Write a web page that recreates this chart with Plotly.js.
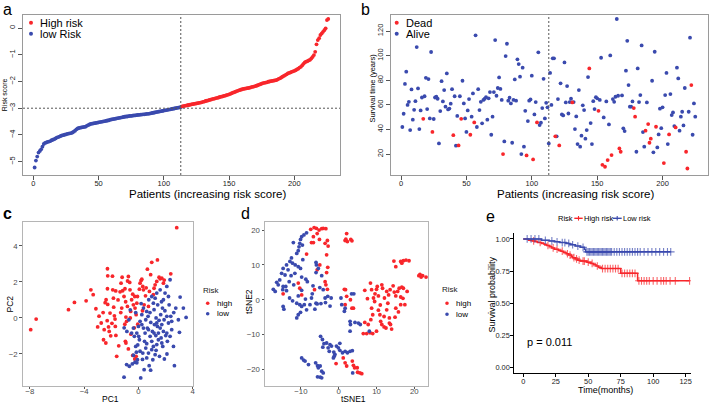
<!DOCTYPE html>
<html><head><meta charset="utf-8">
<script src="https://cdn.plot.ly/plotly-3.0.1.min.js"></script>
<style>html,body{margin:0;padding:0;background:#fff}#chart{width:709px;height:404px}</style>
</head><body><div id="chart"></div>
<script>
// ---------- panel a: risk score curve ----------
const riskScore = [
-5.22,-4.96,-4.81,-4.66,-4.60,-4.54,-4.44,-4.34,-4.30,-4.28,
-4.26,-4.25,-4.23,-4.20,-4.18,-4.16,-4.13,-4.10,-4.08,-4.06,
-4.04,-4.02,-4.01,-3.99,-3.98,-3.96,-3.95,-3.94,-3.93,-3.91,
-3.88,-3.84,-3.79,-3.76,-3.74,-3.73,-3.72,-3.71,-3.70,-3.69,
-3.66,-3.63,-3.61,-3.59,-3.58,-3.57,-3.56,-3.55,-3.54,-3.53,
-3.52,-3.51,-3.50,-3.49,-3.48,-3.47,-3.46,-3.45,-3.43,-3.42,
-3.41,-3.40,-3.39,-3.38,-3.37,-3.36,-3.35,-3.34,-3.33,-3.32,
-3.31,-3.31,-3.30,-3.29,-3.29,-3.28,-3.27,-3.27,-3.26,-3.25,
-3.25,-3.24,-3.24,-3.23,-3.23,-3.22,-3.21,-3.21,-3.20,-3.19,
-3.18,-3.17,-3.16,-3.15,-3.14,-3.13,-3.12,-3.11,-3.10,-3.09,
-3.08,-3.07,-3.06,-3.05,-3.04,-3.03,-3.02,-3.01,-3.00,-2.99,-2.98,-2.97,-2.96,
-2.93,-2.92,-2.91,-2.90,-2.89,-2.88,-2.87,
-2.86,-2.85,-2.84,-2.83,-2.82,-2.81,-2.80,-2.79,-2.78,-2.76,
-2.75,-2.73,-2.72,-2.71,-2.69,-2.68,-2.66,-2.65,-2.64,-2.62,
-2.61,-2.60,-2.58,-2.57,-2.56,-2.54,-2.53,-2.51,-2.50,-2.48,
-2.46,-2.44,-2.42,-2.40,-2.38,-2.36,-2.34,-2.32,-2.31,-2.29,
-2.28,-2.27,-2.26,-2.25,-2.24,-2.23,-2.21,-2.20,-2.19,-2.17,
-2.16,-2.14,-2.12,-2.10,-2.08,-2.06,-2.05,-2.04,-2.03,-2.01,
-2.00,-1.99,-1.98,-1.97,-1.96,-1.95,-1.93,-1.90,-1.88,-1.85,
-1.82,-1.79,-1.76,-1.73,-1.70,-1.68,-1.66,-1.64,-1.62,-1.60,
-1.58,-1.55,-1.52,-1.48,-1.45,-1.40,-1.34,-1.29,-1.26,-1.24,
-1.21,-1.19,-1.14,-1.08,-1.01,-0.89,-0.61,-0.45,-0.38,-0.26,
-0.20,-0.14,-0.08,-0.01,0.30,0.34];
const nLowRisk = 113;
const riskCutoff = -3;
const riskXTicks = [0,50,100,150,200];
const riskYTicks = [-5,-4,-3,-2,-1,0];

// ---------- panel b: survival time / status ----------
const survTime = [
42,52.8,77,87,60,62.5,39.5,72.6,48,56,
63,107,73.4,40.3,55.5,66,48.7,67,82,56.6,
81,49,103,38,48.5,66,66.6,65,28.7,55,
79.3,62.8,72,58.5,85.6,56.3,57,61,72.8,35.4,
67,26.8,51,27,67,48.7,79.6,61.2,49,38,
55.5,64.7,35.7,50.4,69.3,45.7,116.5,42,72.8,55.8,
62.5,45,64,65,66.3,48,65.3,70.4,35.7,50.4,
70.4,112.7,67.4,73.7,82.3,73,64,20,30.3,99.7,
109.7,63.4,65.8,61.2,29.2,64,80.7,63.4,97,93.2,
82.9,20,90.2,26,55.2,18.9,46.8,63.4,64.4,83.7,
15.7,52.2,62.3,45.7,102.7,43.6,45.5,57.4,81.2,49,
61.7,58,28.7,86,60,97.8,97.8,34.4,34.4,64.7,
27,77.5,52.2,51.4,94.5,62,75.3,53,62.3,65,
62,62.3,40.3,50.6,28.1,72,26,35,59.6,55.8,
32.5,39.5,82.6,89.6,45.2,28.1,63,56.6,66.3,65.3,
55.2,64,98.3,11.3,49.8,9.7,62.8,15.1,44.1,100.2,
19.2,64.7,62.5,66.6,129.8,67.4,24.6,21.9,67.7,40.9,
38.7,87.8,112.1,76.1,58.5,58.5,62.8,57.4,50.4,21.9,
89.6,62.3,68,108.3,37.9,26,39,62,44.4,29.2,
32.5,79.6,21.4,103.2,42.2,25.4,36,56.9,41.1,58,
12.7,68,86,28.1,36,68.8,51.7,53.9,42.8,41.7,
90.2,81.5,39,50.4,54.4,43.3,73.7,21.9,8.3,54.4,
114.6,76.1,35.7,61.2,50.4];
const survDead = [
0,0,0,0,0,0,0,0,0,0, 0,0,0,0,0,0,1,0,0,0, 0,0,0,1,0,0,0,0,0,0,
0,0,0,0,0,0,0,0,0,1, 0,0,0,1,0,1,0,0,0,0, 0,0,1,0,0,1,0,0,0,0,
0,0,0,0,0,0,0,0,0,0, 0,0,0,0,0,0,0,1,0,0, 0,0,0,0,0,0,0,0,0,0,
0,0,0,0,0,1,0,0,0,0, 1,0,0,1,0,0,0,0,0,0, 0,0,0,0,0,0,0,1,0,0,
1,0,0,0,0,0,0,0,0,0, 1,0,0,0,0,0,0,0,0,0, 0,0,0,1,0,0,0,0,0,0,
1,0,0,1,0,1,0,1,0,0, 1,0,0,0,0,0,1,1,0,0, 0,0,0,0,0,0,0,1,1,0,
0,0,0,0,0,0,1,0,1,1, 1,0,0,0,1,0,0,0,0,0, 1,0,0,0,1,0,0,0,0,1,
0,0,0,0,0,0,0,1,1,0, 0,1,0,0,0];
const survYTicks = [20,40,60,80,100,120];

// ---------- panel c: PCA ----------
const pcaHigh = [[2.82,5.01],[-7.93,-0.65],[-7.53,-0.06],[-5.15,0.46],[-4.71,0.86],[-3.85,0.95],[-3.5,1.56],[-3.33,1.29],[-3.13,0.51],[-2.74,-0.28],
[-2.57,-1.21],[-2.4,-1.39],[-2.38,1.01],[-2.28,2.73],[-2.26,2.34],[-2.28,1.62],[-2.26,0.75],[-2.2,-0.5],[-2.09,0.27],[-2.04,-0.99],
[-1.91,2.32],[-1.89,1.56],[-1.84,1.1],[-1.82,0.6],[-1.77,0.12],[-1.72,-0.06],[-1.7,-0.47],[-1.66,-0.97],[-1.6,-2.13],[-1.67,1.5],
[-1.28,1.93],[-1.23,0.55],[-1.2,2.26],[-1.16,1.51],[-1.06,1.19],[-0.99,1.62],[-0.94,0.9],[-0.92,0.05],[-0.87,-0.19],[-0.81,0.64],
[-0.92,-1.39],[-0.96,-1.3],[-0.74,-1.72],[-0.74,2.3],[-0.64,1.97],[-0.62,1.56],[-0.57,0.36],[-0.5,1.01],[-0.42,1.32],[-0.37,0.73],
[-0.27,1.19],[-0.25,0.55],[-0.17,0.18],[-0.12,0.82],[-0.07,1.19],[0.07,1.6],[0.12,1.93],[0.2,2.08],[0.25,2.15],[0.32,1.75],
[0.37,1.56],[0.42,0.73],[0.52,1.23],[0.57,1.67],[0.66,2.71],[0.74,0.64],[0.81,1.47],[0.98,3.09],[1.15,1.65],[1.23,1.84],
[1.35,2.03],[1.4,3.22],[1.52,2.26],[1.6,2.17],[1.72,2.21],[1.84,1.93],[2.38,2.45],[-0.17,-2.13],[-0.42,-2.08],[-0.27,-2.28],
[-2.52,-0.65],[-2.45,0.85],[-2.6,0.3],[-2.3,-0.15],[-2.15,-0.75],[-1.45,-1.55],[-1.3,0.3],[-1.5,1.0],[-0.6,0.0],[-0.3,-0.55],
[-0.05,-0.35],[-0.55,-0.9],[-1.0,-0.35],[-3.0,-0.5],[-2.9,0.1],[-1.95,-0.3],[0.3,0.4],[0.9,2.4],[1.9,2.1],[1.1,1.3],[-1.35,1.45],[-0.8,2.05]];
const pcaLow = [[-1.06,-3.29],[-0.87,-2.59],[-0.67,-2.68],[-0.37,-2.07],[-0.25,-2.46],[-0.12,-2.49],[-0.07,-2.32],[-0.05,-1.5],[0.02,-1.02],[0.07,-1.21],
[0.12,-1.85],[0.17,-3.33],[0.25,-0.37],[0.32,-1.95],[0.42,-2.87],[0.49,-0.84],[0.54,-1.67],[0.61,-1.43],[0.66,-0.56],[0.71,0.09],
[0.74,-1.95],[0.79,-2.65],[0.86,-1.02],[0.91,-0.25],[0.98,-1.3],[1.03,-0.75],[1.06,-2.32],[1.1,-1.58],[1.15,0.46],[1.18,-0.37],
[1.23,1.1],[1.28,-0.98],[1.3,0],[1.35,-1.48],[1.4,-0.47],[1.42,0.73],[1.47,-0.84],[1.52,-0.13],[1.55,-2.13],[1.6,-0.56],
[1.64,0.18],[1.67,-1.11],[1.72,-0.37],[1.77,0.55],[1.79,-1.58],[1.84,-0.75],[1.89,-0.1],[1.91,-2.28],[1.96,1.38],[2.01,-0.98],
[2.09,0.09],[2.13,-1.3],[2.21,-0.28],[2.26,0.73],[2.33,2.12],[2.38,0.09],[2.45,-0.65],[2.58,-1.58],[2.65,-2.65],[3.07,1.16],
[3.31,0.55],[3.51,0.03],[3.02,-0.8],[2.94,-0.1],[-0.5,-0.84],[-0.37,-0.56],[-0.3,-1.02],[-0.2,-1.58],[-0.12,-0.84],[0,-0.47],
[0.12,-0.19],[0.25,0.18],[0.37,0.55],[0.54,-0.1],[0.61,0.36],[0.76,1.01],[0.98,1.19],[1.1,0.82],[1.35,1.38],[1.6,1.56],
[1.84,1.01],[2.09,1.75],[2.21,1.19],[0.37,-0.56],[0.74,-0.65],[1.15,-0.84],[1.47,-1.21],[1.72,-1.39],[0.98,-1.76],[1.23,-2.04],
[0.61,-2.22],[1.35,-0.28],[2.09,-0.84],[2.33,-1.02],[2.45,-0.19],[-0.7,-0.1],[-0.6,0.45],[-0.2,0.3],[0.2,0.8],[0.85,0.3],
[1.95,0.4],[2.6,0.3],[1.3,-1.8],[0.45,-1.3],[-0.45,-2.55],[0.9,-2.9],[-0.15,-1.9],[2.1,-2.0],[1.7,0.9],[-1.05,-0.55],
[-0.85,-0.75],[0.3,-2.3],[2.75,0.55]];
const pcaXTicks = [-8,-4,0,4];
const pcaYTicks = [-2,0,2,4];

// ---------- panel d: tSNE ----------
const tsneHigh = [[-7.4,20.2],[-6.5,20.7],[-5.9,20.5],[-5.2,20],[-4.5,20.4],[-4.1,20.5],[-3.4,20.4],[-5.7,19],[-6.7,18.1],[-7.2,16.4],
[-6.7,16.4],[-5.1,17.3],[-3.6,16.2],[-3,17],[-2.8,15.4],[-3.2,12.9],[-8.5,13.1],[-5,10],[-5.7,8.6],[-3.2,7.8],
[-2.9,9.3],[-3.6,5.2],[-3.4,4.3],[-6.4,2.9],[-10.7,4.8],[-10.3,3.3],[-9.8,1.4],[-14.7,1.7],[-3,3.0],
[2.1,19],[1.9,17.4],[1.7,17],[2.3,16.7],[3.2,17.3],[3.5,16.9],
[14.6,11.1],[15.1,9.5],[16.4,11],[16.7,10.5],[17.1,11.2],[17.8,11.4],[18.6,11.2],[21.5,7.3],[21.8,6.5],[22.2,6.9],[23.1,6.5],[21.2,6.9],
[6.9,2.7],[7.6,0.3],[8.4,4.8],[8.7,2.9],[9.2,0.5],[9.6,1.7],[10,3],[10.2,3.8],[10.5,1.1],[11.4,4.3],[11.6,3.3],[12.1,0.5],[12.7,2.4],
[13.2,1.4],[13.6,2.9],[14.4,4],[14.7,2.2],[15.1,1.1],[15.6,2.4],[16,3.3],[16.4,0.8],[16.7,3.6],[17.1,3.3],[17.5,-1.4],[18.1,2.4],
[16.4,-1.4],[15.1,-2.4],[14.9,-5],[13.4,-5.2],[8.7,-2.4],[9,-4.3],[8.5,-5.7],[6.9,-6.5],[7.8,-7.1],[8.3,-9.5],[9,-9.7],[10,-9],
[10.9,-4.3],[11.1,-6.2],[11.4,-7.1],[12,-7.8],[12.5,-8.1],[13.4,-6.7],[13.7,-7.1],[14,-8.4],[12,-4.8],[12.7,-2.9],[10.5,-3],
[6.5,-9.7],[7.4,-9.7],[9.5,-0.5],[11,-1.5],[13,-1.0],[15.8,-3.5],[17,0.4],
[-0.7,-18.3],[1.7,-18.1],[2.1,-19],[3.6,-17.6],[3.9,-18.8],[4.2,-19.5],[4.9,-19.5],[5,-20.8],[5.6,-21],[6.1,-21.2],[1.2,-16.7],
[1.5,3],[1.8,2.9],[3.1,0],[3.5,-2.4],[3.9,-2.4],[2.1,1],[1.7,-1.4]];
const tsneLow = [[-8.5,19.2],[-9.2,18.6],[-9.8,18.1],[-10.1,17.3],[-12,16.4],[-10.3,16.2],[-10.5,15.2],[-10.7,14.1],[-11.1,13.3],[-9.6,15.7],
[-12.9,11],[-12.2,10.5],[-11.5,10],[-10.7,9.5],[-10.1,9],[-13.8,10],[-14.7,9],[-13.4,8.6],[-15.1,7.6],[-14.2,7.1],
[-12.6,6.9],[-11.6,7.6],[-9.8,6.5],[-8.7,5.9],[-8.3,5.2],[-15.6,5.7],[-16.4,5],[-16,4.3],[-14.7,3.8],[-14,3.8],
[-13.1,5.2],[-11.9,4.3],[-17.3,3],[-16.8,2.4],[-14.8,2.9],[-13.8,2.6],[-10.7,1.1],[-9.8,2.7],[-11.1,-1],[-10.3,-1.4],
[-9.8,-1.9],[-9.1,-1.4],[-8.5,-2.9],[-10.1,-3.6],[-10.7,-4.3],[-11.1,-5.2],[-14.7,-1.9],[-14.5,-2.7],[-7,1.7],[-7.2,0.5],
[-6,-1],[-5.7,-1.2],[-4.7,-1.1],[-3.6,0.5],[-2.9,1],[-2,0.5],[-6.3,-2.7],[-7.6,-1.4],[-6,10.7],[-5.9,10],
[-5.4,9],[-6,7.8],[-4.5,6.9],[-4.1,2.9],[0.6,0.5],[0.8,-1.4],[1.7,-2.4],[1.5,-3.3],[4,1.7],[3.4,1.7],
[3,-6.2],[3.1,-7.1],[3,-9],[4.3,-6.5],[5.2,-6.7],[5.7,-7.1],[8.1,-9],
[-4.8,-10.5],[-4.3,-11.4],[-3.9,-12.6],[-3.2,-12.4],[-2.3,-12.9],[-1.9,-13.3],[-2.5,-14.8],[-1.3,-15],[-1,-15.7],[-0.6,-13.3],
[-0.1,-13.8],[0.3,-14.5],[1,-15.2],[1.7,-14.8],[2.3,-15.2],[3,-14.8],[3.6,-14.6],[-1.2,-16.2],[-1.4,-16.7],
[-9.8,-16.7],[-9.3,-17.3],[-8.9,-17.6],[-8,-18.6],[-6.1,-18.1],[-5.6,-18.9],[-5.4,-19.5],[-4.9,-19],[-4.5,-20.5],[-4.1,-21],
[-5.6,-22.1],[-4.9,-22.2],[-4.5,-22.4],[3.7,-21],[-12.5,12],[-9.5,11.5],[-13,0.5],[-12.2,-0.3],[-8.8,0.2],[-6.8,4.0],
[-5,3.5],[-2.3,-1.8],[-3.5,-0.8],[0.3,-12.5],[-4.2,-13.6],[-2.8,-13.8]];
const tsneXTicks = [-10,0,10,20];
const tsneYTicks = [-20,-10,0,10,20];

// ---------- panel e: Kaplan-Meier ----------
const kmHighTime = [0,4,7,9,11,14,16,18,20,22,24,27,29,31,33,35,37,38,40,42,44,49,52,54,56,58,60,75,88];
const kmHighSurv = [1,0.99,0.985,0.98,0.973,0.965,0.958,0.95,0.94,0.93,0.92,0.912,0.905,0.895,0.885,0.875,0.865,0.855,0.845,0.835,0.828,0.82,0.81,0.80,0.79,0.78,0.77,0.733,0.675];
const kmHighCensor = [8,13,19,23,26,30,34,36,39,41,43,46,47,50,53,57,61,63,65,67,69,71,73,76,78,80,82,84,86,89,91,93,95,97,100,103,106,108,110,113,117,128];
const kmLowTime = [0,14,20,24,28,33,36,40,44,47,48];
const kmLowSurv = [1,0.99,0.985,0.978,0.972,0.965,0.955,0.945,0.935,0.92,0.90];
const kmLowCensor = [3,6,9,12,17,22,26,30,32,35,38,42,46,49,50,51,52,53,54,55,56,57,58,59,60,61,62,63,64,65,66,67,68,70,72,74,76,78,80,82,84,86,88,90,93,96,99,102,105,108,111,113.5];
const kmXTicks = [0,25,50,75,100,125];
const kmYTicks = [0,0.25,0.5,0.75,1];
const kmPValue = 'p = 0.011';

// ---------- styling ----------
const RED = '#f8262b', BLUE = '#3a4aae';
const FONT = 'Liberation Sans, Arial, Helvetica, sans-serif';
const W = 709, H = 404;
const px = v => v / W, py = v => 1 - v / H;

const traces = [];
const MS = 3.8;
// a
const idx = riskScore.map((_, i) => i + 1);
traces.push({x: idx.slice(0, nLowRisk), y: riskScore.slice(0, nLowRisk), type:'scatter', mode:'markers', name:'low Risk',
  marker:{color:BLUE, size:MS}, xaxis:'x', yaxis:'y'});
traces.push({x: idx.slice(nLowRisk), y: riskScore.slice(nLowRisk), type:'scatter', mode:'markers', name:'High risk',
  marker:{color:RED, size:MS}, xaxis:'x', yaxis:'y'});
// b
const bx = survTime.map((_, i) => i + 1);
const pick = (arr, flag) => arr.filter((_, i) => survDead[i] === flag);
traces.push({x: pick(bx, 0), y: pick(survTime, 0), type:'scatter', mode:'markers', name:'Alive',
  marker:{color:BLUE, size:MS}, xaxis:'x2', yaxis:'y2'});
traces.push({x: pick(bx, 1), y: pick(survTime, 1), type:'scatter', mode:'markers', name:'Dead',
  marker:{color:RED, size:MS}, xaxis:'x2', yaxis:'y2'});
// c
traces.push({x: pcaHigh.map(p=>p[0]), y: pcaHigh.map(p=>p[1]), type:'scatter', mode:'markers', name:'high',
  marker:{color:RED, size:MS}, xaxis:'x3', yaxis:'y3'});
traces.push({x: pcaLow.map(p=>p[0]), y: pcaLow.map(p=>p[1]), type:'scatter', mode:'markers', name:'low',
  marker:{color:BLUE, size:MS}, xaxis:'x3', yaxis:'y3'});
// d
traces.push({x: tsneHigh.map(p=>p[0]), y: tsneHigh.map(p=>p[1]), type:'scatter', mode:'markers', name:'high',
  marker:{color:RED, size:MS}, xaxis:'x4', yaxis:'y4'});
traces.push({x: tsneLow.map(p=>p[0]), y: tsneLow.map(p=>p[1]), type:'scatter', mode:'markers', name:'low',
  marker:{color:BLUE, size:MS}, xaxis:'x4', yaxis:'y4'});
// e : step curve with censor ticks merged in (censor points lie on the step)
function kmTrace(times, survs, censors, name, color) {
  const S = t => { let s = survs[0]; for (let k = 0; k < times.length; k++) if (times[k] <= t) s = survs[k]; return s; };
  const pts = times.map((t, k) => ({t, s: survs[k], c: 0})).concat(censors.map(t => ({t, s: S(t), c: 1})));
  pts.sort((a, b) => a.t - b.t || a.c - b.c);
  return {x: pts.map(p=>p.t), y: pts.map(p=>p.s), type:'scatter', mode:'lines+markers', name,
    line:{color, width:1.5, shape:'hv'},
    marker:{symbol:'cross-thin', size: pts.map(p=>p.c ? 5.5 : 0), line:{color, width:1.1}, color},
    xaxis:'x5', yaxis:'y5'};
}
traces.push(kmTrace(kmHighTime, kmHighSurv, kmHighCensor, 'High risk', RED));
traces.push(kmTrace(kmLowTime, kmLowSurv, kmLowCensor, 'Low risk', BLUE));

const rAxis = (extra) => Object.assign({showgrid:false, zeroline:false, showline:true, mirror:true, linecolor:'#9a9a9a', linewidth:1,
  ticks:'outside', ticklen:4, tickcolor:'#555', tickfont:{size:7.5, color:'#222', family:FONT}}, extra);
const gAxis = (extra) => Object.assign({showgrid:false, zeroline:false, showline:true, mirror:true, linecolor:'#b5b5b5', linewidth:1,
  ticks:'outside', ticklen:2.5, tickcolor:'#555', tickfont:{size:7.8, color:'#4d4d4d', family:FONT}}, extra);

// helpers for text, legend keys
const txt = (text, x, y, size, extra) => Object.assign({text, x:px(x), y:py(y), xref:'paper', yref:'paper', xanchor:'left', yanchor:'middle',
  showarrow:false, borderpad:0, font:{size, color:'#000'}}, extra || {});
const dot = (x, y, r, color) => ({type:'circle', xref:'paper', yref:'paper', x0:px(x-r), x1:px(x+r), y0:py(y+r), y1:py(y-r), fillcolor:color, line:{width:0}});
const seg = (x0, y0, x1, y1, color, w) => ({type:'line', xref:'paper', yref:'paper', x0:px(x0), x1:px(x1), y0:py(y0), y1:py(y1), line:{color, width:w}});
const dash = {color:'#555', width:1, dash:'2px,2px'};

const layout = {
  width: W, height: H, margin:{l:0, r:0, t:0, b:0}, paper_bgcolor:'#fff', plot_bgcolor:'#fff',
  font:{family:FONT, color:'#000'}, showlegend:false,
  xaxis: rAxis({domain:[px(23), px(340)], anchor:'y', range:[-7.9, 235], tickvals:riskXTicks, ticklabelstandoff:-3}),
  yaxis: rAxis({domain:[py(175), py(14.7)], anchor:'x', range:[-5.5, 0.5], tickvals:riskYTicks, tickangle:-90}),
  xaxis2: rAxis({domain:[px(390.7), px(707.8)], anchor:'y2', range:[-7.9, 234.6], tickvals:riskXTicks, ticklabelstandoff:-3}),
  yaxis2: rAxis({domain:[py(175), py(14.7)], anchor:'x2', range:[3, 133.3], tickvals:survYTicks, tickangle:-90}),
  xaxis3: gAxis({domain:[px(22.7), px(193.3)], anchor:'y3', range:[-8.52, 4.04], tickvals:pcaXTicks, ticklabelstandoff:-4}),
  yaxis3: gAxis({domain:[py(385.5), py(222.3)], anchor:'x3', range:[-3.75, 5.31], tickvals:pcaYTicks}),
  xaxis4: gAxis({domain:[px(265), px(428.3)], anchor:'y4', range:[-19.5, 23.7], tickvals:tsneXTicks, ticklabelstandoff:-4}),
  yaxis4: gAxis({domain:[py(385.5), py(221.7)], anchor:'x4', range:[-24.6, 22.4], tickvals:tsneYTicks}),
  xaxis5: {domain:[px(514.3), px(691)], anchor:'y5', range:[-6.9, 129.1], tickvals:kmXTicks, showgrid:false, zeroline:false,
    showline:true, mirror:false, linecolor:'#000', linewidth:1, ticks:'outside', ticklen:3, tickcolor:'#000',
    tickfont:{size:7.4, color:'#222'}, ticklabelstandoff:-2},
  yaxis5: {domain:[py(372.7), py(233.3)], anchor:'x5', range:[-0.039, 1.044], tickvals:kmYTicks, tickformat:'.2f', showgrid:false,
    zeroline:false, showline:true, mirror:false, linecolor:'#000', linewidth:1, ticks:'outside', ticklen:3, tickcolor:'#000',
    tickfont:{size:7.4, color:'#222'}, ticklabelstandoff:-1},
  shapes: [
    {type:'line', xref:'x', yref:'y domain', x0:nLowRisk, x1:nLowRisk, y0:0, y1:1, line:dash},
    {type:'line', xref:'x domain', yref:'y', x0:0, x1:1, y0:riskCutoff, y1:riskCutoff, line:dash},
    {type:'line', xref:'x2', yref:'y2 domain', x0:nLowRisk, x1:nLowRisk, y0:0, y1:1, line:dash},
    // legend keys
    dot(31, 22.8, 2, RED), dot(31, 33.8, 2, BLUE),
    dot(396.7, 22.8, 2, RED), dot(396.7, 33.8, 2, BLUE),
    dot(207.7, 303.3, 1.8, RED), dot(207.7, 313.8, 1.8, BLUE),
    dot(447, 303.3, 1.8, RED), dot(447, 314.3, 1.8, BLUE),
    seg(574.3, 218.3, 582.7, 218.3, RED, 1.4), seg(578.5, 216, 578.5, 220.6, RED, 1.1),
    seg(612.7, 218.3, 621.7, 218.3, BLUE, 1.4), seg(617.2, 216, 617.2, 220.6, BLUE, 1.1)
  ],
  annotations: [
    // legends
    txt('High risk', 39, 22.8, 11), txt('low Risk', 39, 33.8, 11),
    txt('Dead', 405, 22.8, 11), txt('Alive', 405, 33.8, 11),
    txt('Risk', 201.7, 290.7, 8, {font:{size:8, color:'#222'}}), txt('high', 216, 303.3, 8), txt('low', 216, 313.8, 8),
    txt('Risk', 441, 289.3, 8, {font:{size:8, color:'#222'}}), txt('high', 455, 303.3, 8), txt('low', 455, 314.3, 8),
    txt('Risk', 557.3, 218.3, 7.5), txt('High risk', 583.3, 218.3, 7.5), txt('Low risk', 622.3, 218.3, 7.5),
    // axis titles
    txt('Patients (increasing risk score)', 207.5, 194.2, 11.5, {xanchor:'center'}),
    txt('Risk score', 4.7, 94.5, 7, {xanchor:'center', textangle:-90}),
    txt('Patients (increasing risk score)', 575, 194.2, 11.5, {xanchor:'center'}),
    txt('Survival time (years)', 372.6, 88, 7.5, {xanchor:'center', textangle:-90}),
    txt('PC1', 110, 399.4, 8.5, {xanchor:'center'}),
    txt('PC2', 9.5, 304, 8.5, {xanchor:'center', textangle:-90}),
    txt('tSNE1', 353, 399.4, 8.5, {xanchor:'center'}),
    txt('tSNE2', 249, 302, 8.5, {xanchor:'center', textangle:-90}),
    txt('Time(months)', 605.5, 390, 9, {xanchor:'center'}),
    txt('Survival probability', 491.5, 295, 9, {xanchor:'center', textangle:-90}),
    txt(kmPValue, 525.5, 341.7, 11),
    // panel letters
    txt('a', 1.5, 9.6, 16), txt('b', 359.5, 9.6, 16),
    txt('<b>c</b>', 1.5, 213.5, 16), txt('d', 240.5, 213.5, 16), txt('e', 484.5, 216.5, 16)
  ]
};
Plotly.newPlot('chart', traces, layout, {staticPlot:true, displayModeBar:false});
</script></body></html>
